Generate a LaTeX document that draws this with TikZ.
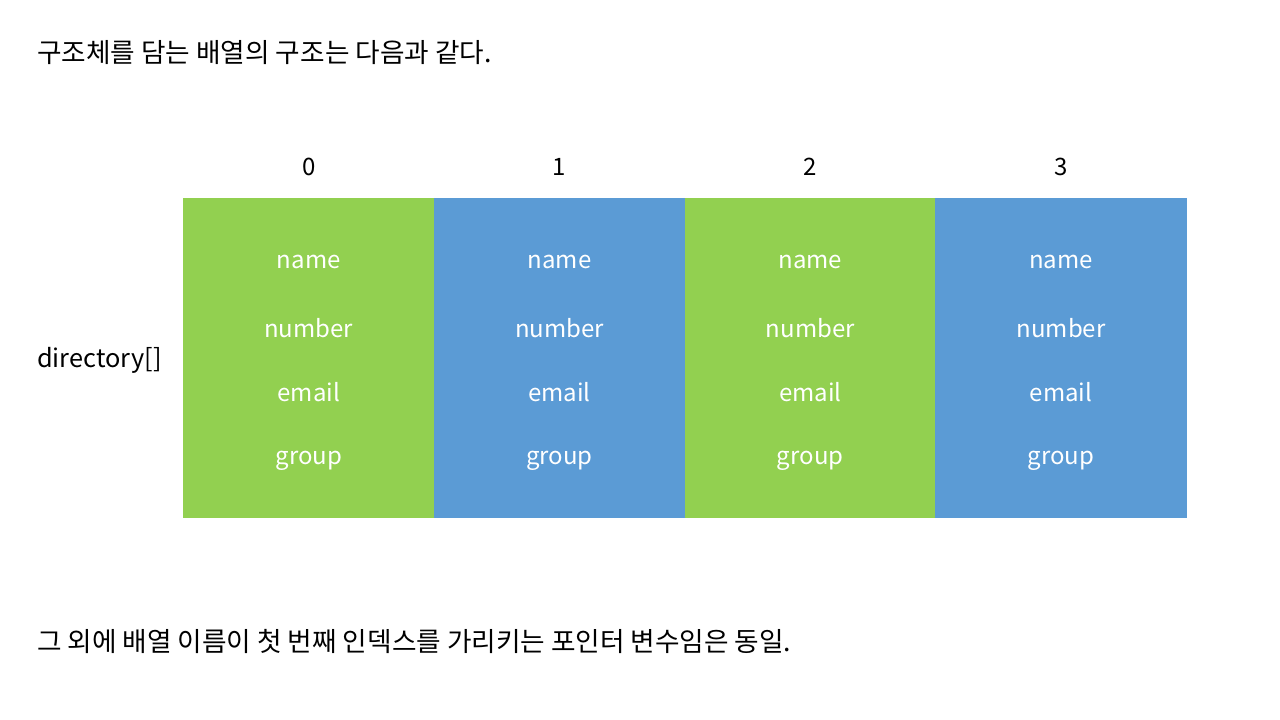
\documentclass[tikz,border=0pt]{standalone}
\usepackage{fontspec}
\setmainfont{Noto Sans CJK KR}
\definecolor{cgreen}{HTML}{92D050}
\definecolor{cblue}{HTML}{5B9BD5}
\begin{document}
\begin{tikzpicture}[x=0.75pt,y=-0.75pt,
  cell/.style={minimum width=251.5*0.75pt, minimum height=320*0.75pt, inner sep=0pt, outer sep=0pt},
  lbl/.style={text=white, font=\fontsize{18}{22}\selectfont, inner sep=0pt},
  idx/.style={font=\fontsize{18}{22}\selectfont, inner sep=0pt},
  txt/.style={font=\fontsize{20}{24}\selectfont, inner sep=0pt, anchor=west}]
\useasboundingbox (0,0) rectangle (1280,720);
\fill[white] (0,0) rectangle (1280,720);
\node[txt] (title) at (37,53) {구조체를 담는 배열의 구조는 다음과 같다.};
\node[txt, font=\fontsize{19}{23}\selectfont] (dir) at (37,360) {directory[]};
\node[txt] (foot) at (37,641) {그 외에 배열 이름이 첫 번째 인덱스를 가리키는 포인터 변수임은 동일.};
\foreach \i/\c in {0/cgreen,1/cblue,2/cgreen,3/cblue}{
  \node[cell, fill=\c, anchor=north west] (c\i) at (183+250.75*\i,198) {};
  \node[idx] (i\i) at (c\i.center |- 0,167) {\i};
  \node[lbl] (n\i) at (c\i.center |- 0,262) {name};
  \node[lbl] (m\i) at (c\i.center |- 0,328) {number};
  \node[lbl] (e\i) at (c\i.center |- 0,392) {email};
  \node[lbl] (g\i) at (c\i.center |- 0,461) {group};
}
\end{tikzpicture}
\end{document}
